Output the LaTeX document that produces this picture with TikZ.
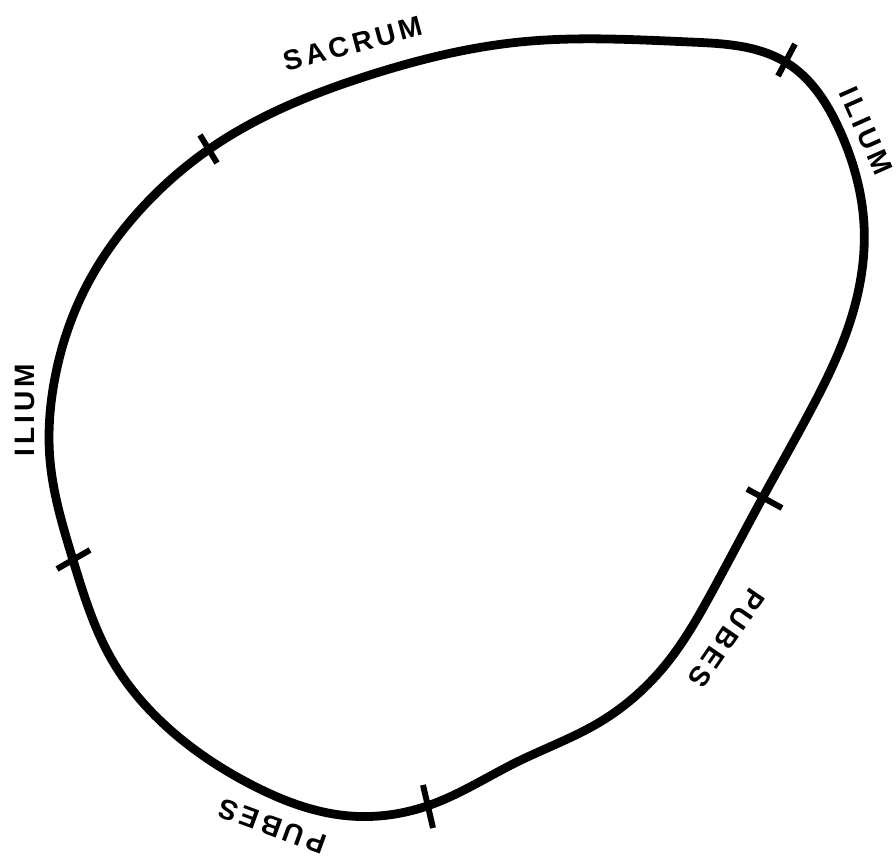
\documentclass[tikz,border=0pt]{standalone}
\usepackage{fontspec}
\usetikzlibrary{hobby}
\setsansfont{Liberation Sans}[LetterSpace=14]
\begin{document}
\begin{tikzpicture}[x=0.02cm,y=-0.02cm,
  bone/.style={line width=5pt, line join=round},
  tickmark/.style={line width=3.4pt},
  lab/.style={font=\sffamily\bfseries\fontsize{16}{16}\selectfont, inner sep=0pt}]
\useasboundingbox (0,0) rectangle (896,858);
\fill[white] (0,0) rectangle (896,858);
\draw[bone, use Hobby shortcut, closed=true]
  (208,150) .. (370,75) .. (520,42) .. (690,42) .. (787,63) .. (840,131)
  .. (864,225) .. (849,325) .. (807,417) .. (763,497) .. (713,590)
  .. (667,663) .. (600,722) .. (517,762) .. (430,805) .. (350,816)
  .. (250,784) .. (167,727) .. (112,660) .. (73,560) .. (50,460)
  .. (54,383) .. (87,285) .. (140,210);
% tick marks
\coordinate (t1a) at (200,135); \coordinate (t1b) at (217,163);
\coordinate (t2a) at (795,44);  \coordinate (t2b) at (778,76);
\coordinate (t3a) at (747,489); \coordinate (t3b) at (782,508);
\coordinate (t4a) at (423,785); \coordinate (t4b) at (433,828);
\coordinate (t5a) at (57,569);  \coordinate (t5b) at (90,550);
\draw[tickmark] (t1a) -- (t1b);
\draw[tickmark] (t2a) -- (t2b);
\draw[tickmark] (t3a) -- (t3b);
\draw[tickmark] (t4a) -- (t4b);
\draw[tickmark] (t5a) -- (t5b);
% labels
\node[lab, rotate=15] (sacrum) at (353,44) {SACRUM};
\node[lab, rotate=-66] (iliumr) at (866,131) {ILIUM};
\node[lab, rotate=90] (iliuml) at (25,410) {ILIUM};
\node[lab, rotate=235.5] (pubesr) at (727,638) {PUBES};
\node[lab, rotate=160] (pubesb) at (272,826) {PUBES};
\end{tikzpicture}
\end{document}
